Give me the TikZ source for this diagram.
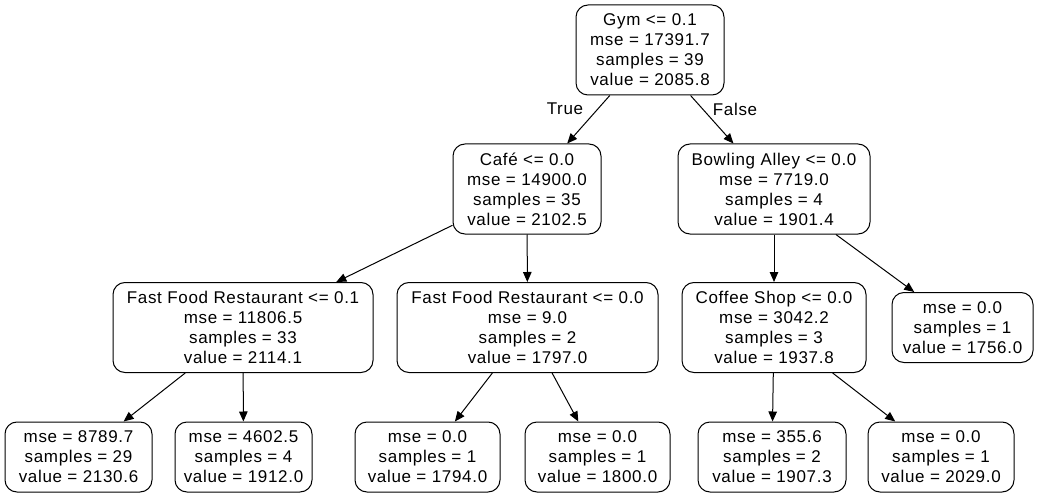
\documentclass[tikz,border=0pt]{standalone}
\usepackage{fontspec}
\setmainfont{Liberation Sans}[LetterSpace=4]
\usetikzlibrary{arrows.meta}
\tikzset{
  box/.style={draw, line width=1pt, rounded corners=12pt, inner sep=0pt, align=center,
    font=\fontsize{17pt}{20pt}\selectfont},
  inner4/.style={box, minimum height=90pt},
  leaf3/.style={box, minimum height=70pt},
  edge/.style={line width=1pt, -{Triangle[length=10pt,width=8.5pt]}},
  elabel/.style={font=\fontsize{17pt}{20pt}\selectfont, inner sep=0pt}
}
\begin{document}
\begin{tikzpicture}[x=1pt,y=-1pt]
\useasboundingbox (0,0) rectangle (1041,497);
\node[inner4, minimum width=148pt] (root) at (650,50) {Gym <= 0.1\\mse = 17391.7\\samples = 39\\value = 2085.8};
\node[inner4, minimum width=148pt] (cafe) at (527,189) {Café <= 0.0\\mse = 14900.0\\samples = 35\\value = 2102.5};
\node[inner4, minimum width=192pt] (bowl) at (774,189) {Bowling Alley <= 0.0\\mse = 7719.0\\samples = 4\\value = 1901.4};
\node[inner4, minimum width=260pt] (ffa) at (243,327.5) {Fast Food Restaurant <= 0.1\\mse = 11806.5\\samples = 33\\value = 2114.1};
\node[inner4, minimum width=261pt] (ffb) at (527.5,327.5) {Fast Food Restaurant <= 0.0\\mse = 9.0\\samples = 2\\value = 1797.0};
\node[inner4, minimum width=184pt] (coffee) at (774,327.5) {Coffee Shop <= 0.0\\mse = 3042.2\\samples = 3\\value = 1937.8};
\node[leaf3, minimum width=141pt] (rleaf) at (962.5,327.5) {mse = 0.0\\samples = 1\\value = 1756.0};
\node[leaf3, minimum width=147pt] (la) at (78.5,457) {mse = 8789.7\\samples = 29\\value = 2130.6};
\node[leaf3, minimum width=137pt] (lb) at (243.5,457) {mse = 4602.5\\samples = 4\\value = 1912.0};
\node[leaf3, minimum width=145pt] (lc) at (427.5,457) {mse = 0.0\\samples = 1\\value = 1794.0};
\node[leaf3, minimum width=145pt] (ld) at (597.5,457) {mse = 0.0\\samples = 1\\value = 1800.0};
\node[leaf3, minimum width=148pt] (le) at (772,457) {mse = 355.6\\samples = 2\\value = 1907.3};
\node[leaf3, minimum width=146pt] (lf) at (941,457) {mse = 0.0\\samples = 1\\value = 2029.0};
\draw[edge] (root) -- (cafe);
\draw[edge] (root) -- (bowl);
\draw[edge] (cafe) -- (ffa);
\draw[edge] (cafe) -- (ffb);
\draw[edge] (bowl) -- (coffee);
\draw[edge] (bowl) -- (rleaf);
\draw[edge] (ffa) -- (la);
\draw[edge] (ffa) -- (lb);
\draw[edge] (ffb) -- (lc);
\draw[edge] (ffb) -- (ld);
\draw[edge] (coffee) -- (le);
\draw[edge] (coffee) -- (lf);
\node[elabel] (ltrue) at (565,109) {True};
\node[elabel] (lfalse) at (735,109) {False};
\end{tikzpicture}
\end{document}
